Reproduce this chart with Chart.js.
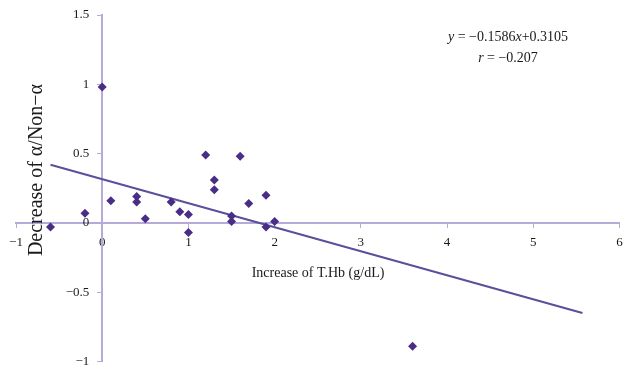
<!DOCTYPE html>
<html>
<head>
<meta charset="utf-8">
<script src="https://cdn.jsdelivr.net/npm/chart.js@4/dist/chart.umd.min.js"></script>
<style>
  body { margin: 0; background: #fff; }
  #wrap { width: 624px; height: 366px; position: relative; }
</style>
</head>
<body>
<div id="wrap"><canvas id="chart"></canvas></div>
<script>
// points
const hbIncrease = [-0.6, -0.2, 0.0, 0.1, 0.4, 0.4, 0.5, 0.8, 0.9, 1.0, 1.0, 1.2, 1.3, 1.3, 1.5, 1.5, 1.6, 1.7, 1.9, 1.9, 2.0, 3.6];
const alphaDecrease = [-0.03, 0.07, 0.98, 0.16, 0.19, 0.15, 0.03, 0.15, 0.08, 0.06, -0.07, 0.49, 0.31, 0.24, 0.05, 0.01, 0.48, 0.14, 0.20, -0.03, 0.01, -0.89];

// regression line ends as drawn
const fitX = [-0.6, 5.57];
const fitY = [0.42, -0.65];

const xTitle = "Increase of T.Hb (g/dL)";
const yTitle = "Decrease of \u03b1/Non\u2212\u03b1";
const eqRuns = [["y", true], [" = \u22120.1586", false], ["x", true], ["+0.3105", false]];
const rRuns = [["r", true], [" = \u22120.207", false]];

const axisColor = "#b5aad9";
const markColor = "#4a2d87";
const lineColor = "#5b4f9b";
const serif = "'Liberation Serif', 'DejaVu Serif', serif";

function minus(v) {
  return String(v).replace("-", "\u2212");
}

// y labels on a centred axis sit right on the line, so push them left
function yLabel(v) {
  return minus(v) + "\u2002\u2002";
}

function noPad(scale) {
  scale.paddingTop = 0;
  scale.paddingBottom = 0;
  scale.paddingLeft = 0;
  scale.paddingRight = 0;
}

function drawRuns(ctx, runs, cx, cy, size) {
  const widths = runs.map(([t, it]) => {
    ctx.font = (it ? "italic " : "") + size + "px " + serif;
    return ctx.measureText(t).width;
  });
  let x = cx - widths.reduce((a, b) => a + b, 0) / 2;
  runs.forEach(([t, it], i) => {
    ctx.font = (it ? "italic " : "") + size + "px " + serif;
    ctx.fillText(t, x, cy);
    x += widths[i];
  });
}

const textPlugin = {
  id: "texts",
  afterDraw(chart) {
    const ctx = chart.ctx;
    ctx.save();
    ctx.fillStyle = "#1a1a1a";
    ctx.textBaseline = "middle";
    ctx.textAlign = "left";
    drawRuns(ctx, eqRuns, 508, 37, 14);
    drawRuns(ctx, rRuns, 508, 58, 14);

    ctx.textAlign = "center";
    ctx.font = "14px " + serif;
    ctx.fillText(xTitle, 318, 273);

    ctx.translate(37, 170);
    ctx.rotate(-Math.PI / 2);
    ctx.font = "20px " + serif;
    ctx.fillText(yTitle, 0, 0);
    ctx.restore();
  }
};

new Chart(document.getElementById("chart"), {
  type: "scatter",
  data: {
    datasets: [
      {
        data: hbIncrease.map((x, i) => ({ x: x, y: alphaDecrease[i] })),
        pointStyle: "rectRot",
        pointRadius: 4.5,
        backgroundColor: markColor,
        borderColor: markColor,
        borderWidth: 0
      },
      {
        data: fitX.map((x, i) => ({ x: x, y: fitY[i] })),
        showLine: true,
        pointRadius: 0,
        borderColor: lineColor,
        borderWidth: 2
      }
    ]
  },
  options: {
    responsive: true,
    maintainAspectRatio: false,
    animation: false,
    layout: { padding: { left: 16, right: 2, top: 15, bottom: 3 } },
    plugins: { legend: { display: false }, tooltip: { enabled: false } },
    scales: {
      x: {
        type: "linear",
        min: -1,
        max: 6,
        position: { y: 0 },
        afterFit: noPad,
        grid: { drawOnChartArea: false, drawTicks: true, tickLength: 4, color: axisColor },
        border: { color: axisColor, width: 2 },
        ticks: {
          stepSize: 1,
          padding: 8,
          color: "#1a1a1a",
          font: { family: serif, size: 13 },
          callback: minus
        }
      },
      y: {
        type: "linear",
        min: -1,
        max: 1.5,
        position: { x: 0 },
        afterFit: noPad,
        grid: { drawOnChartArea: false, drawTicks: true, tickLength: 4, color: axisColor },
        border: { color: axisColor, width: 2 },
        ticks: {
          stepSize: 0.5,
          padding: 8,
          color: "#1a1a1a",
          font: { family: serif, size: 13 },
          callback: yLabel
        }
      }
    }
  },
  plugins: [textPlugin]
});
</script>
</body>
</html>
